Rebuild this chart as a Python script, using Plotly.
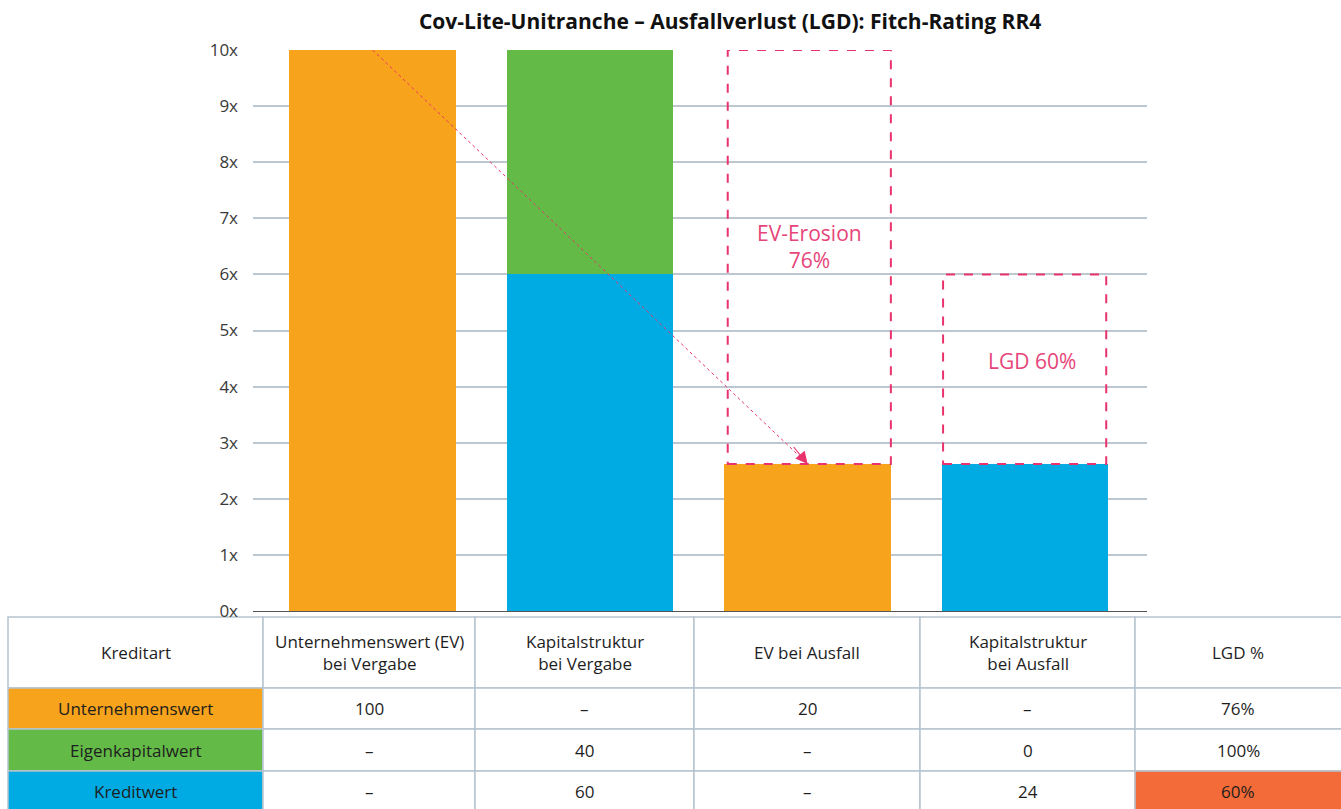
import plotly.graph_objects as go

# Chart data (multiples of EBITDA)
bar_positions = [0, 1, 2, 3]
enterprise_value = [10, None, 2.62, None]
equity_value = [None, 4, None, None]
debt_value = [None, 6, None, 2.62]
y_ticks = [0, 1, 2, 3, 4, 5, 6, 7, 8, 9, 10]
y_tick_text = [f"{t}x" for t in y_ticks]

# Table data
header = ["Kreditart", "Unternehmenswert (EV)<br>bei Vergabe", "Kapitalstruktur<br>bei Vergabe",
          "EV bei Ausfall", "Kapitalstruktur<br>bei Ausfall", "LGD %"]
row_labels = ["Unternehmenswert", "Eigenkapitalwert", "Kreditwert"]
col_ev_start = ["100", "–", "–"]
col_cap_start = ["–", "40", "60"]
col_ev_default = ["20", "–", "–"]
col_cap_default = ["–", "0", "24"]
col_lgd = ["76%", "100%", "60%"]

ORANGE = "#F7A31B"
GREEN = "#63BA46"
BLUE = "#00AAE2"
RED = "#F26B38"
PINK = "#E8336C"
TEXT_PINK = "#E64579"
GRID = "#BDC7D0"
TABLE_LINE = "#B6C3CE"
FONT = "Open Sans"

W, H = 1341, 809
bar_w = 0.765

fig = go.Figure()
fig.add_trace(go.Bar(x=bar_positions, y=enterprise_value, marker_color=ORANGE, width=bar_w,
                     marker_line_width=0, name="Unternehmenswert"))
fig.add_trace(go.Bar(x=bar_positions, y=debt_value, marker_color=BLUE, width=bar_w,
                     marker_line_width=0, name="Kreditwert"))
fig.add_trace(go.Bar(x=bar_positions, y=equity_value, marker_color=GREEN, width=bar_w,
                     marker_line_width=0, name="Eigenkapitalwert"))

shapes = []
annotations = []

# ---- Table under the chart (pixel layout converted to paper coordinates) ----
col_edges = [8, 263, 475, 694, 920, 1135, 1345]
row_edges = [617, 688, 729, 771, 812]
columns = [row_labels, col_ev_start, col_cap_start, col_ev_default, col_cap_default, col_lgd]
row_fill = [ORANGE, GREEN, BLUE]


def px_x(v):
    return v / W


def px_y(v):
    return 1 - v / H


for c in range(len(header)):
    cells = [header[c]] + columns[c]
    for r, text in enumerate(cells):
        if r == 0:
            fill = "white"
        elif c == 0:
            fill = row_fill[r - 1]
        elif c == len(header) - 1 and r == len(cells) - 1:
            fill = RED
        else:
            fill = "white"
        x0, x1 = col_edges[c], col_edges[c + 1]
        y0, y1 = row_edges[r], row_edges[r + 1]
        shapes.append(dict(type="rect", xref="paper", yref="paper",
                           x0=px_x(x0), x1=px_x(x1), y0=px_y(y1), y1=px_y(y0),
                           fillcolor=fill, line=dict(color=TABLE_LINE, width=1.5),
                           layer="below"))
        annotations.append(dict(xref="paper", yref="paper",
                                x=px_x((x0 + min(x1, 1341)) / 2),
                                y=px_y((y0 + min(y1, 811)) / 2),
                                xanchor="center", yanchor="middle", text=text,
                                showarrow=False, align="center",
                                font=dict(family=FONT, size=17, color="#1e1e1e")))

# ---- Dashed boxes marking the erosion and loss ----
ev_top = enterprise_value[0]
debt_top = debt_value[1]
shapes.append(dict(type="rect", xref="x", yref="y",
                   x0=2 - bar_w / 2 + 0.015, x1=2 + bar_w / 2,
                   y0=enterprise_value[2], y1=ev_top,
                   line=dict(color=PINK, width=2, dash="dash"), layer="above"))
shapes.append(dict(type="rect", xref="x", yref="y",
                   x0=3 - bar_w / 2 + 0.005, x1=3 + bar_w / 2 - 0.01,
                   y0=debt_value[3], y1=debt_top,
                   line=dict(color=PINK, width=2, dash="dash"), layer="above"))
# Dashed arrow line from the original EV to the EV at default
shapes.append(dict(type="line", xref="x", yref="y",
                   x0=0, y0=ev_top, x1=2, y1=enterprise_value[2],
                   line=dict(color=PINK, width=1, dash="3px,3px"), layer="above"))

# Arrowhead
annotations.append(dict(x=2, y=enterprise_value[2], ax=1.93, ay=enterprise_value[2] + 0.33,
                        xref="x", yref="y", axref="x", ayref="y", text="",
                        showarrow=True, arrowhead=2, arrowsize=2.2, arrowwidth=1.1,
                        arrowcolor=PINK))
annotations.append(dict(x=2.01, y=6.49, xref="x", yref="y", text="EV-Erosion<br>76%",
                        showarrow=False, font=dict(family=FONT, size=21, color=TEXT_PINK)))
annotations.append(dict(x=3.03, y=4.46, xref="x", yref="y", text="LGD 60%",
                        showarrow=False, font=dict(family=FONT, size=21, color=TEXT_PINK)))

fig.update_layout(
    width=W, height=H,
    margin=dict(l=0, r=0, t=0, b=0),
    paper_bgcolor="white", plot_bgcolor="white",
    barmode="stack", bargap=0, showlegend=False,
    shapes=shapes, annotations=annotations,
    title=dict(text="<b>Cov-Lite-Unitranche – Ausfallverlust (LGD): Fitch-Rating RR4</b>",
               x=0.5445, xanchor="center", y=1 - 22 / H, yanchor="middle",
               font=dict(family=FONT, size=21, color="#111111")),
    xaxis=dict(domain=[253 / W, 1147 / W], range=[-0.55, 3.56], showticklabels=False,
               showgrid=False, zeroline=False, showline=True, linecolor="#555555",
               linewidth=1.2, ticks="", automargin=False),
    yaxis=dict(domain=[1 - 611 / H, 1 - 50 / H], range=[0, 10], tickvals=y_ticks,
               ticktext=y_tick_text, showgrid=True, gridcolor=GRID, gridwidth=1.5,
               zeroline=False, showline=False, ticklabelstandoff=14, automargin=False,
               tickfont=dict(family=FONT, size=17, color="#3a3a3a")),
)

fig.write_html("out.html")
